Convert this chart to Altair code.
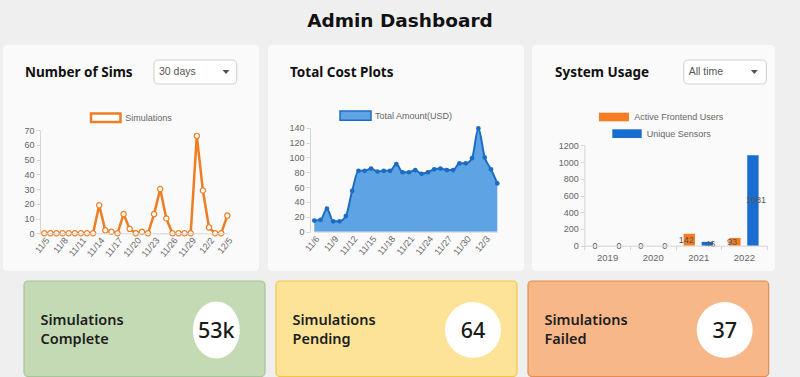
import altair as alt
import pandas as pd

# ---------------- data ----------------
sims_dates = ["11/5", "11/6", "11/7", "11/8", "11/9", "11/10", "11/11", "11/12", "11/13",
              "11/14", "11/15", "11/16", "11/17", "11/18", "11/19", "11/20", "11/21", "11/22",
              "11/23", "11/24", "11/25", "11/26", "11/27", "11/28", "11/29", "11/30",
              "12/1", "12/2", "12/3", "12/4", "12/5"]
sims_values = [0, 0, 0, 0, 0, 0, 0, 0, 0, 19, 2, 1, 0, 13, 3, 0, 1, 0, 13, 30, 10,
               0, 0, 0, 0, 66, 29, 4, 0, 0, 12]
sims_ticks = ["11/5", "11/8", "11/11", "11/14", "11/17", "11/20", "11/23", "11/26",
              "11/29", "12/2", "12/5"]

cost_dates = ["11/6", "11/7", "11/8", "11/9", "11/10", "11/11", "11/12", "11/13", "11/14",
              "11/15", "11/16", "11/17", "11/18", "11/19", "11/20", "11/21", "11/22", "11/23",
              "11/24", "11/25", "11/26", "11/27", "11/28", "11/29", "11/30",
              "12/1", "12/2", "12/3", "12/4", "12/5"]
cost_values = [15, 16, 31, 14, 14, 21, 55, 82, 82, 85, 81, 82, 82, 91, 80, 80, 83, 78,
               80, 84, 85, 83, 83, 92, 92, 99, 139, 100, 84, 65]
cost_ticks = ["11/6", "11/9", "11/12", "11/15", "11/18", "11/21", "11/24", "11/27",
              "11/30", "12/3"]

years = ["2019", "2020", "2021", "2022"]
series_names = ["Active Frontend Users", "Unique Sensors"]
active_users = [0, 0, 142, 93]
unique_sensors = [0, 0, 46, 1081]

stat_labels_1 = ["Simulations", "Simulations", "Simulations"]
stat_labels_2 = ["Complete", "Pending", "Failed"]
stat_values = ["53k", "64", "37"]

sims_df = pd.DataFrame({"date": sims_dates, "value": sims_values})
cost_df = pd.DataFrame({"date": cost_dates, "value": cost_values})
usage_df = pd.DataFrame({
    "year": years * 2,
    "series": [series_names[0]] * 4 + [series_names[1]] * 4,
    "value": active_users + unique_sensors,
})

# ---------------- style ----------------
W, H = 800, 377
PAGE = "#efefef"
CARD = "#fafafa"
ORANGE = "#ef7d22"
BLUE_FILL = "#5ea4e4"
BLUE_LINE = "#1c6cc4"
BAR_ORANGE = "#f57c20"
BAR_BLUE = "#1a6dd0"
AX = "Liberation Sans"
UI = "Noto Sans"

one = pd.DataFrame({"k": [0]})


def rect(x, x2, y, y2, fill, stroke=None, sw=1.0, r=0):
    kw = dict(fill=fill, cornerRadius=r)
    if stroke:
        kw.update(stroke=stroke, strokeWidth=sw)
    else:
        kw.update(strokeWidth=0)
    return alt.Chart(one).mark_rect(**kw).encode(
        x=alt.value(x), x2=alt.value(x2), y=alt.value(y), y2=alt.value(y2))


def txt(s, x, y, size, color="#666", font=AX, weight="normal", align="left", baseline="middle"):
    return alt.Chart(one).mark_text(
        text=s, fontSize=size, color=color, font=font, fontWeight=weight,
        align=align, baseline=baseline).encode(x=alt.value(x), y=alt.value(y))


def sym(x, y, shape, size, fill):
    return alt.Chart(one).mark_point(
        shape=shape, size=size, filled=True, fill=fill, opacity=1, strokeWidth=0).encode(
        x=alt.value(x), y=alt.value(y))


layers = []

# title
layers.append(txt("Admin Dashboard", 400, 26.5, 18.5, "#111", "DejaVu Sans", "bold", "center", "alphabetic"))

# top cards
for (a, b) in [(3, 259), (268, 524), (532, 775)]:
    layers.append(rect(a, b, 45, 271, CARD, r=4))

# card titles
for s, x in [("Number of Sims", 25), ("Total Cost Plots", 290), ("System Usage", 555)]:
    layers.append(txt(s, x, 77.3, 13.5, "#111", UI, "bold", "left", "alphabetic"))

# dropdowns
for (a, b, label, ax) in [(154, 236.7, "30 days", 226), (683.7, 766.3, "All time", 754.3)]:
    layers.append(rect(a, b, 60, 84, "#ffffff", "#cfcfcf", 1, 4))
    layers.append(txt(label, a + 5, 72, 10.5, "#555"))
    layers.append(sym(ax, 72, "M-1,-0.6L1,-0.6L0,0.6Z", 49, "#555"))

# legends
layers.append(rect(91, 120.5, 113.5, 122, "#ffffff", ORANGE, 2.5))
layers.append(txt("Simulations", 125.3, 117.5, 9))
layers.append(rect(340, 371, 111, 120.3, BLUE_FILL, BLUE_LINE, 1.5))
layers.append(txt("Total Amount(USD)", 375, 115.5, 9))
layers.append(rect(599, 629, 112.7, 121.3, BAR_ORANGE))
layers.append(txt("Active Frontend Users", 634.3, 117, 9))
layers.append(rect(612.3, 641.7, 129.3, 138, BAR_BLUE))
layers.append(txt("Unique Sensors", 646.7, 133.7, 9))

axis_common = dict(labelFont=AX, labelColor="#666", domainColor="#d6d6d6",
                   tickColor="#d6d6d6", grid=False, title=None, labelOverlap=False, zindex=1)


def xaxis_dates(ticks, y_pos):
    return alt.Axis(orient="bottom", offset=y_pos - H, values=ticks, labelAngle=-50,
                    labelAlign="right", labelBaseline="middle", tickSize=0, labelFontSize=9,
                    labelPadding=5, labelOffset=3, **axis_common)


def yaxis(vals, x_pos):
    return alt.Axis(orient="left", offset=-x_pos, values=vals, tickSize=4, labelFontSize=9,
                    labelPadding=2, format="d", **axis_common)


# ---------- chart 1: Number of Sims ----------
s_x_rng = [44.3, 227.3]
s_y_rng = [233.3, 130]


def s_enc(with_axes):
    return dict(
        x=alt.X("date:O", sort=None,
                scale=alt.Scale(type="point", domain=sims_dates, range=s_x_rng, padding=0),
                axis=xaxis_dates(sims_ticks, 233.3) if with_axes else None),
        y=alt.Y("value:Q", scale=alt.Scale(domain=[0, 70], range=s_y_rng, nice=False),
                axis=yaxis(list(range(0, 71, 10)), 40) if with_axes else None),
    )


layers.append(alt.Chart(sims_df).mark_line(color=ORANGE, strokeWidth=2.5).encode(**s_enc(True)))
layers.append(alt.Chart(sims_df).mark_point(shape="circle", size=28, filled=True, fill="white",
                                             stroke=ORANGE, strokeWidth=1.2, opacity=1)
              .encode(**s_enc(False)))

# ---------- chart 2: Total Cost ----------
c_x_rng = [314.3, 497.3]
c_y_rng = [231.7, 127.7]


def c_enc(with_axes):
    return dict(
        x=alt.X("date:O", sort=None,
                scale=alt.Scale(type="point", domain=cost_dates, range=c_x_rng, padding=0),
                axis=xaxis_dates(cost_ticks, 231.7) if with_axes else None),
        y=alt.Y("value:Q", scale=alt.Scale(domain=[0, 140], range=c_y_rng, nice=False),
                axis=yaxis(list(range(0, 141, 20)), 310) if with_axes else None),
    )


layers.append(alt.Chart(cost_df).mark_area(color=BLUE_FILL, opacity=1, interpolate="monotone")
              .encode(**c_enc(True)))
layers.append(alt.Chart(cost_df).mark_line(color=BLUE_LINE, strokeWidth=2, interpolate="monotone")
              .encode(**c_enc(False)))
layers.append(alt.Chart(cost_df).mark_point(shape="circle", size=22, filled=True, color=BLUE_LINE,
                                             opacity=1).encode(**c_enc(False)))

# ---------- chart 3: System Usage ----------
u_x_rng = [584.3, 766.7]
u_y_rng = [245.7, 145.3]


def u_enc(with_axes, yfield="value"):
    return dict(
        x=alt.X("year:N", sort=years,
                scale=alt.Scale(type="band", domain=years, range=u_x_rng,
                                paddingInner=0, paddingOuter=0),
                axis=alt.Axis(orient="bottom", offset=245.7 - H, tickBand="extent", tickSize=4,
                              labelPadding=3, labelAngle=0, labelFontSize=9.5, **axis_common)
                if with_axes else None),
        xOffset=alt.XOffset("series:N", sort=series_names,
                            scale=alt.Scale(domain=series_names, paddingInner=0.37,
                                            paddingOuter=0.45)),
        y=alt.Y(f"{yfield}:Q", scale=alt.Scale(domain=[0, 1200], range=u_y_rng, nice=False),
                axis=yaxis(list(range(0, 1201, 200)), 584.3) if with_axes else None),
    )


layers.append(alt.Chart(usage_df).mark_bar().encode(
    color=alt.Color("series:N", scale=alt.Scale(domain=series_names, range=[BAR_ORANGE, BAR_BLUE]),
                    legend=None),
    **u_enc(True)))
layers.append(alt.Chart(usage_df).transform_calculate(mid="datum.value / 2")
              .mark_text(font=AX, fontSize=9, color="#555", baseline="middle")
              .encode(text="value:Q", **u_enc(False, "mid")))

# ---------- stat cards ----------
cards = [
    (24, 265, "#c4dab4", "#a8c498", 216.3, "M0,-1A0.82,1 0 1,1 0,1A0.82,1 0 1,1 0,-1Z", 3249),
    (276, 517, "#fde398", "#f3c640", 473, "circle", 3136),
    (528, 768.7, "#f8b789", "#e48c52", 724.7, "circle", 3136),
]
for i, (a, b, fill, stroke, cx, shape, size) in enumerate(cards):
    layers.append(rect(a, b, 281, 376.5, fill, stroke, 1.2, 4))
    layers.append(sym(cx, 330, shape, size, "#ffffff"))
    layers.append(txt(stat_labels_1[i], a + 16.5, 325, 14.5, "#1e1e1e", UI, 600, "left", "alphabetic"))
    layers.append(txt(stat_labels_2[i], a + 16.5, 344, 14.5, "#1e1e1e", UI, 600, "left", "alphabetic"))
    layers.append(txt(stat_values[i], cx, 337.7, 21.5, "#1a1a1a", UI, 500, "center", "alphabetic"))

chart = (
    alt.layer(*layers)
    .resolve_scale(x="independent", y="independent", color="independent", xOffset="independent")
    .resolve_axis(x="independent", y="independent")
    .properties(width=W, height=H, autosize=alt.AutoSizeParams(type="none"), padding=0,
                background=PAGE)
    .configure_view(stroke=None)
)

chart.save("out.html", embed_options={"renderer": "svg", "actions": False})
